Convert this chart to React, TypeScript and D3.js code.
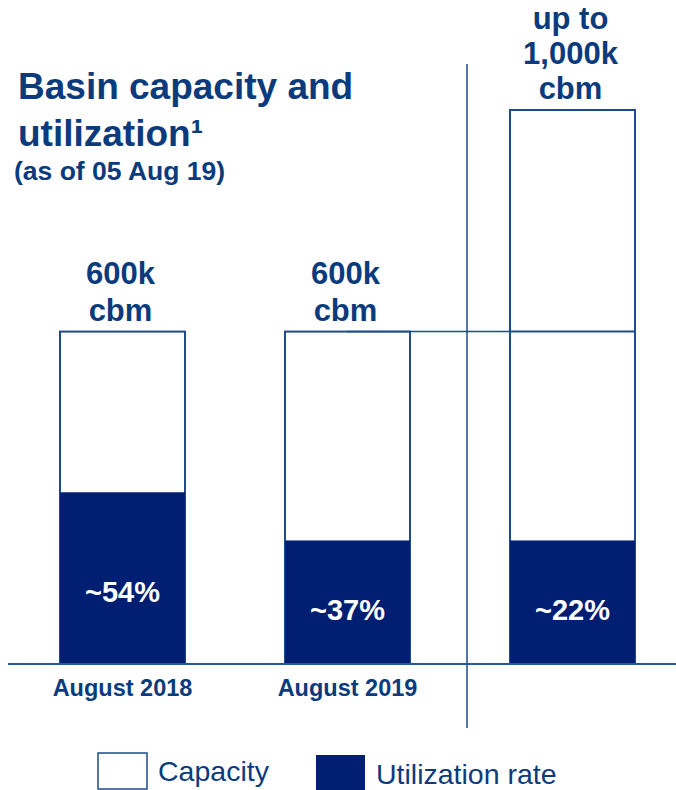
import React from "react";
import * as d3 from "d3";

// Basin capacity and utilization, stacked outline bars

const categories = ["August 2018", "August 2019", ""];
const capacity = [600, 600, 1000]; // k cbm
const baseCapacity = [600, 600, 600]; // divider inside the last bar
const utilized = [310, 223, 223]; // k cbm, as drawn
const utilLabels = ["~54%", "~37%", "~22%"];
const capLabels = [["600k", "cbm"], ["600k", "cbm"], ["up to", "1,000k", "cbm"]];
const legendItems = ["Capacity", "Utilization rate"];

const W = 676, H = 790;
const textBlue = "#0b3b7c";
const edge = "#1d4b8b";
const navy = "#001f72";
const font = "'Liberation Sans', Arial, sans-serif";

export default function App() {
  const x = d3.scaleBand<string>()
    .domain(categories.map((_, i) => String(i)))
    .range([60, 635])
    .paddingInner(100 / 225)
    .paddingOuter(0);
  const y = d3.scaleLinear().domain([0, 1000]).range([664, 110]);
  const bw = x.bandwidth();

  return (
    <div style={{ position: "absolute", left: 0, top: 0 }}>
      <svg width={W} height={H} style={{ display: "block", fontFamily: font }}>
        <rect width={W} height={H} fill="#fff" />

        {/* title */}
        <text x={18} y={99} fontSize={37} fontWeight="bold" fill={textBlue}>Basin capacity and</text>
        <text x={18} y={146} fontSize={37} fontWeight="bold" fill={textBlue}>utilization¹</text>
        <text x={14} y={180} fontSize={26.5} fontWeight="bold" fill={textBlue}>(as of 05 Aug 19)</text>

        <line x1={467} x2={467} y1={64} y2={728} stroke={edge} strokeWidth={1.5} />

        {categories.map((c, i) => {
          const x0 = x(String(i))!;
          const cx = x0 + bw / 2;
          const uTop = y(utilized[i]);
          const lines = capLabels[i];
          const top = y(capacity[i]);
          const gap = lines.length > 2 ? 35 : 37;
          return (
            <g key={i}>
              <rect x={x0} y={top} width={bw} height={y(0) - top} fill="#fff" stroke={edge} strokeWidth={2} />
              {capacity[i] !== baseCapacity[i] && (
                <line x1={x0} x2={x0 + bw} y1={y(baseCapacity[i])} y2={y(baseCapacity[i])} stroke={edge} strokeWidth={2} />
              )}
              <rect x={x0} y={uTop} width={bw} height={y(0) - uTop} fill={navy} />
              <text x={cx} y={y(0) - 0.36 * (y(0) - uTop)} textAnchor="middle" fontSize={29} fontWeight="bold" fill="#fff">
                {utilLabels[i]}
              </text>
              {lines.map((l, j) => (
                <text key={j} x={cx - 2} y={top - 11 - (lines.length - 1 - j) * gap} textAnchor="middle"
                  fontSize={31} fontWeight="bold" fill={textBlue}>{l}</text>
              ))}
              <text x={cx} y={696} textAnchor="middle" fontSize={23.5} fontWeight="bold" fill={textBlue}>{c}</text>
            </g>
          );
        })}

        {/* connector from the 600k level across to the last bar */}
        <line x1={347} x2={x("2")!} y1={y(600)} y2={y(600)} stroke={edge} strokeWidth={1.5} />

        {/* baseline */}
        <line x1={8} x2={676} y1={y(0)} y2={y(0)} stroke="#2a5894" strokeWidth={2} />

        {/* legend */}
        <rect x={98} y={753} width={49} height={36} fill="#fff" stroke={edge} strokeWidth={1.5} />
        <text x={158} y={781} fontSize={28.5} fill={textBlue}>{legendItems[0]}</text>
        <rect x={316} y={755} width={49} height={35} fill={navy} />
        <text x={376} y={784} fontSize={28.5} fill={textBlue}>{legendItems[1]}</text>
      </svg>
    </div>
  );
}
